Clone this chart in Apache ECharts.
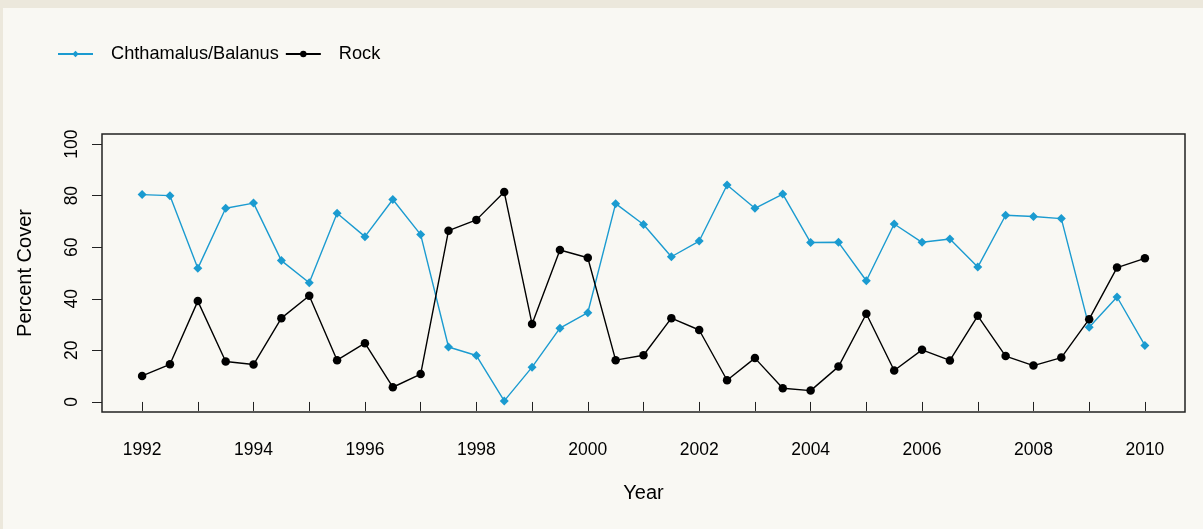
<!DOCTYPE html>
<html lang="en">
<head>
  <meta charset="UTF-8">
  <title>Percent Cover</title>
  <script src="https://cdn.jsdelivr.net/npm/echarts@6/dist/echarts.min.js"></script>
  <style>
    body { margin: 0; background: #ece8dc; }
  </style>
</head>
<body>
  <div id="main" style="width: 1203px;height:529px;"></div>
  <script type="text/javascript">
    // survey dates, every half year
    var years = [1992, 1992.5, 1993, 1993.5, 1994, 1994.5, 1995, 1995.5, 1996, 1996.5,
      1997, 1997.5, 1998, 1998.5, 1999, 1999.5, 2000, 2000.5, 2001, 2001.5,
      2002, 2002.5, 2003, 2003.5, 2004, 2004.5, 2005, 2005.5, 2006, 2006.5,
      2007, 2007.5, 2008, 2008.5, 2009, 2009.5, 2010];

    var barnacles = [80.4, 80.0, 51.8, 75.1, 77.1, 54.8, 46.2, 73.2, 64.1, 78.5,
      64.9, 21.3, 18.0, 0.4, 13.5, 28.6, 34.6, 76.9, 68.8, 56.3,
      62.4, 84.1, 75.1, 80.6, 61.8, 61.9, 47.0, 69.0, 61.9, 63.2,
      52.3, 72.4, 71.9, 71.1, 29.0, 40.7, 21.9];

    var rock = [10.1, 14.6, 39.1, 15.7, 14.5, 32.5, 41.2, 16.2, 22.8, 5.7,
      10.8, 66.4, 70.6, 81.4, 30.2, 58.9, 55.9, 16.2, 18.1, 32.5,
      27.9, 8.4, 17.0, 5.3, 4.4, 13.7, 34.2, 12.2, 20.2, 16.1,
      33.4, 17.8, 14.1, 17.2, 32.1, 52.1, 55.7];

    var xTicks = [1992, 1993, 1994, 1995, 1996, 1997, 1998, 1999, 2000, 2001,
      2002, 2003, 2004, 2005, 2006, 2007, 2008, 2009, 2010];
    var xLabels = [1992, 1994, 1996, 1998, 2000, 2002, 2004, 2006, 2008, 2010];
    var yTicks = [0, 20, 40, 60, 80, 100];

    var blue = '#1b9bd0';

    function pairs(vals) {
      return years.map(function (y, i) { return [y, vals[i]]; });
    }

    var myChart = echarts.init(document.getElementById('main'));

    var font = '"Liberation Sans", Arial, sans-serif';

    var option = {
      backgroundColor: '#ece8dc',
      animation: false,
      graphic: [{
        type: 'rect',
        shape: { x: 3, y: 8, width: 1200, height: 521 },
        style: { fill: '#f9f8f3' },
        z: -10
      }],
      legend: {
        left: 52,
        top: 40,
        itemWidth: 35,
        itemHeight: 8,
        itemGap: 6,
        textStyle: { fontFamily: font, fontSize: 18.2, color: '#000', padding: [0, 0, 0, 13] },
        data: ['Chthamalus/Balanus', 'Rock']
      },
      grid: {
        left: 102,
        top: 134,
        right: 18,
        bottom: 117,
        show: true,
        borderColor: '#222',
        borderWidth: 1.5,
        backgroundColor: 'transparent'
      },
      xAxis: {
        type: 'value',
        min: 1991.28,
        max: 2010.72,
        name: 'Year',
        nameLocation: 'middle',
        nameGap: 71,
        nameTextStyle: { fontFamily: font, fontSize: 20, color: '#000' },
        axisLine: { show: false },
        splitLine: { show: false },
        axisTick: {
          inside: false,
          length: 9,
          customValues: xTicks,
          lineStyle: { color: '#222', width: 1 }
        },
        axisLabel: {
          customValues: xLabels,
          formatter: function (v) { return String(v); },
          margin: 29,
          fontFamily: font,
          fontSize: 17.5,
          color: '#000'
        }
      },
      yAxis: {
        type: 'value',
        min: -3.9,
        max: 103.9,
        name: 'Percent Cover',
        nameLocation: 'middle',
        nameGap: 67,
        nameRotate: 90,
        nameTextStyle: { fontFamily: font, fontSize: 20, color: '#000' },
        axisLine: { show: false },
        splitLine: { show: false },
        axisTick: {
          inside: false,
          length: 10,
          customValues: yTicks,
          lineStyle: { color: '#222', width: 1 }
        },
        axisLabel: {
          customValues: yTicks,
          formatter: function (v) { return String(v); },
          rotate: 90,
          margin: 21,
          fontFamily: font,
          fontSize: 17.5,
          color: '#000'
        }
      },
      series: [
        {
          name: 'Chthamalus/Balanus',
          type: 'line',
          data: pairs(barnacles),
          symbol: 'diamond',
          symbolSize: 9,
          itemStyle: { color: blue },
          lineStyle: { color: blue, width: 1.4 }
        },
        {
          name: 'Rock',
          type: 'line',
          data: pairs(rock),
          symbol: 'circle',
          symbolSize: 8.5,
          itemStyle: { color: '#000' },
          lineStyle: { color: '#000', width: 1.4 }
        }
      ]
    };

    myChart.setOption(option);
  </script>
</body>
</html>
